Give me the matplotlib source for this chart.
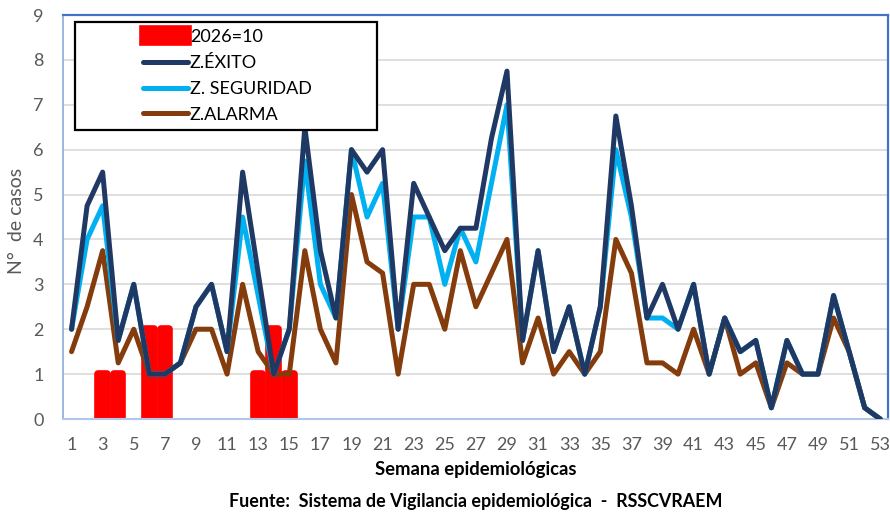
import matplotlib
matplotlib.use("Agg")
import matplotlib.pyplot as plt
from matplotlib.patches import Rectangle

plt.rcParams['font.family'] = ['Lato', 'DejaVu Sans']

semanas = list(range(1, 54))
casos_2026 = [0, 0, 1, 1, 0, 2, 2, 0, 0, 0,
              0, 0, 1, 2, 1, 0, 0, 0, 0, 0,
              0, 0, 0, 0, 0, 0, 0, 0, 0, 0,
              0, 0, 0, 0, 0, 0, 0, 0, 0, 0,
              0, 0, 0, 0, 0, 0, 0, 0, 0, 0,
              0, 0, 0]
exito = [2, 4.75, 5.5, 1.75, 3, 1, 1, 1.25, 2.5, 3,
         1.5, 5.5, 3.25, 1, 2, 6.5, 3.75, 2.25, 6, 5.5,
         6, 2, 5.25, 4.5, 3.75, 4.25, 4.25, 6.25, 7.75, 1.75,
         3.75, 1.5, 2.5, 1, 2.5, 6.75, 4.75, 2.25, 3, 2,
         3, 1, 2.25, 1.5, 1.75, 0.25, 1.75, 1, 1, 2.75,
         1.5, 0.25, 0]
seguridad = [2, 4, 4.75, 1.75, 3, 1, 1, 1.25, 2.5, 3,
             1.5, 4.5, 2.75, 1, 2, 5.75, 3, 2.25, 6, 4.5,
             5.25, 2, 4.5, 4.5, 3, 4.25, 3.5, 5.25, 7, 1.75,
             3.75, 1.5, 2.5, 1, 2.5, 6, 4.5, 2.25, 2.25, 2,
             3, 1, 2.25, 1.5, 1.75, 0.25, 1.75, 1, 1, 2.75,
             1.5, 0.25, 0]
alarma = [1.5, 2.5, 3.75, 1.25, 2, 1, 1, 1.25, 2, 2,
          1, 3, 1.5, 1, 1, 3.75, 2, 1.25, 5, 3.5,
          3.25, 1, 3, 3, 2, 3.75, 2.5, 3.25, 4, 1.25,
          2.25, 1, 1.5, 1, 1.5, 4, 3.25, 1.25, 1.25, 1,
          2, 1, 2.25, 1, 1.25, 0.25, 1.25, 1, 1, 2.25,
          1.5, 0.25, 0]
etiquetas = ["2026=10", "Z.ÉXITO", "Z. SEGURIDAD", "Z.ALARMA"]

gris = '#595959'

fig = plt.figure(figsize=(8.9, 5.12), dpi=100)
ax = fig.add_axes([63/890, 1-419/512, (888-63)/890, (419-15)/512])

# only weeks with cases get a bar (zero-height bars would leave red edges)
sem_c = [s for s, v in zip(semanas, casos_2026) if v > 0]
val_c = [v for v in casos_2026 if v > 0]
b = ax.bar(sem_c, val_c, width=0.55, color='red', edgecolor='red',
           linewidth=5.5, joinstyle='round', label=etiquetas[0], zorder=2)
kw = dict(linewidth=3.6, solid_joinstyle='round', solid_capstyle='round')
l3, = ax.plot(semanas, alarma, color='#843C0C', label=etiquetas[3], zorder=3, **kw)
l2, = ax.plot(semanas, seguridad, color='#00B0F0', label=etiquetas[2], zorder=4, **kw)
l1, = ax.plot(semanas, exito, color='#1F3864', label=etiquetas[1], zorder=5, **kw)

ax.set_xlim(0.45, 53.5)
ax.set_ylim(0, 9)
ax.set_xticks(semanas[::2])
ax.set_yticks(range(0, 10))
ax.tick_params(length=0, labelsize=13, colors=gris, pad=14)
ax.tick_params(axis='x', pad=13)
ax.yaxis.grid(True, color='#D9D9D9', linewidth=1.2, zorder=0)
ax.set_axisbelow(True)

for s in ['top', 'right']:
    ax.spines[s].set_color('#4472C4')
    ax.spines[s].set_linewidth(1.6)
ax.spines['left'].set_color('#8EA9DB')
ax.spines['left'].set_linewidth(1.2)
ax.spines['bottom'].set_color('#B4C6E7')
ax.spines['bottom'].set_linewidth(1.5)

# legend box
x0, x1 = (75-63)/825, (377-63)/825
y0, y1 = (419-130)/404, (419-22)/404
ax.add_patch(Rectangle((x0, y0), x1-x0, y1-y0, transform=ax.transAxes,
                       facecolor='white', edgecolor='black', linewidth=1.6, zorder=8))
leg = ax.legend([b, l1, l2, l3], etiquetas, loc='upper left',
                bbox_to_anchor=((143-63)/825, (419-29)/404), frameon=False,
                fontsize=13, handlelength=2.5, handletextpad=0.1,
                borderpad=0, borderaxespad=0, labelspacing=0.55)
leg.set_zorder(9)

fig.text(17/890, 1-221/512, "N°  de casos", rotation=90, color=gris,
         fontsize=14, ha='center', va='center')
fig.text(476/890, 1-470/512, "Semana epidemiológicas", fontsize=13.3,
         fontweight='bold', ha='center', va='center')
fig.text(476/890, 1-501/512, "Fuente:  Sistema de Vigilancia epidemiológica  -  RSSCVRAEM",
         fontsize=12.9, fontweight='bold', ha='center', va='center')

fig.savefig("out.png", dpi=100)
